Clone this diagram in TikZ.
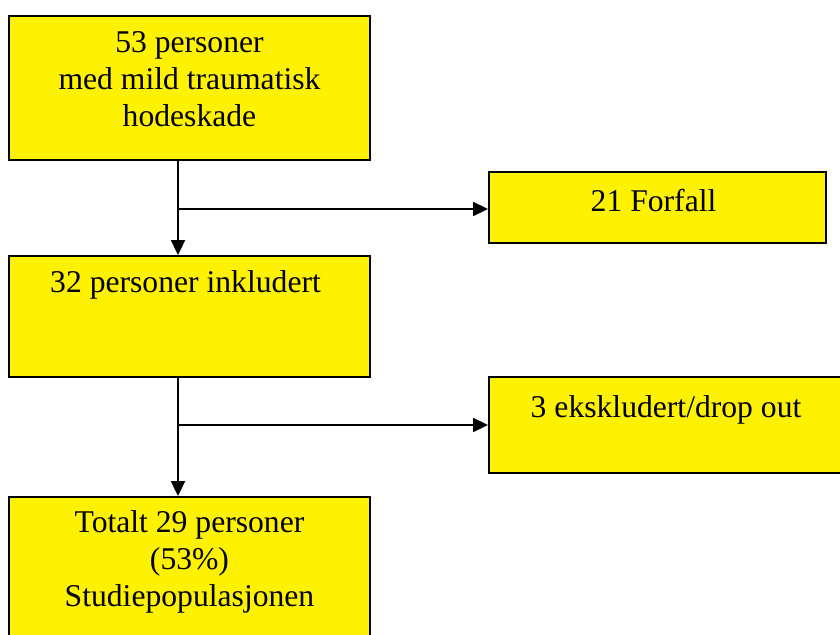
\documentclass[tikz,border=0pt]{standalone}
\usepackage{fontspec}
\setmainfont{Liberation Serif}
\usetikzlibrary{arrows.meta,positioning}

\begin{document}
\begin{tikzpicture}[x=0.025cm,y=-0.025cm,-{Triangle[length=10.5pt,width=10pt]},
      line width=0.9pt,box/.style={rectangle,draw,line width=1.4pt,fill=yellow,inner sep=0pt},
      txt/.style={align=center,inner sep=0pt,font=\fontsize{22.5}{26.3}\selectfont}]
      \useasboundingbox (0,0) rectangle (840,635);

      \node[box,minimum width=9.025cm,minimum height=3.6cm]   (start)   at (189.5,  88) {};
      \node[box,minimum width=8.425cm,minimum height=1.775cm] (forfall) at (657.5, 207.5) {};
      \node[box,minimum width=9.025cm,minimum height=3.025cm] (incl)    at (189.5, 316.5) {};
      \node[box,minimum width=9.05cm,minimum height=2.4cm]    (drop)    at (670,   425) {};
      \node[box,minimum width=9.025cm,minimum height=3.6cm]   (total)   at (189.5, 569) {};

      \node[txt,below=0.4cm of start.north]    (startText)   { 53 personer\\med mild traumatisk\\hodeskade };
      \node[txt,below=0.45cm of forfall.north] (forfallText) { 21 Forfall };
      \node[txt,below=0.375cm of incl.north]   (inclText)    { 32 personer inkludert };
      \node[txt,below=0.475cm of drop.north]   (dropText)    { 3 ekskludert/drop out };
      \node[txt,below=0.35cm of total.north]   (totalText)   { Totalt 29 personer\\(53\%)\\Studiepopulasjonen };

      \coordinate (split1) at (178, 209);
      \coordinate (split2) at (178, 425);

      \path
      (start.south -| split1) edge (incl.north -| split1)
      (split1) edge (split1 -| forfall.west)
      (incl.south -| split2) edge (total.north -| split2)
      (split2) edge (split2 -| drop.west)
      ;
      \end{tikzpicture}
\end{document}
